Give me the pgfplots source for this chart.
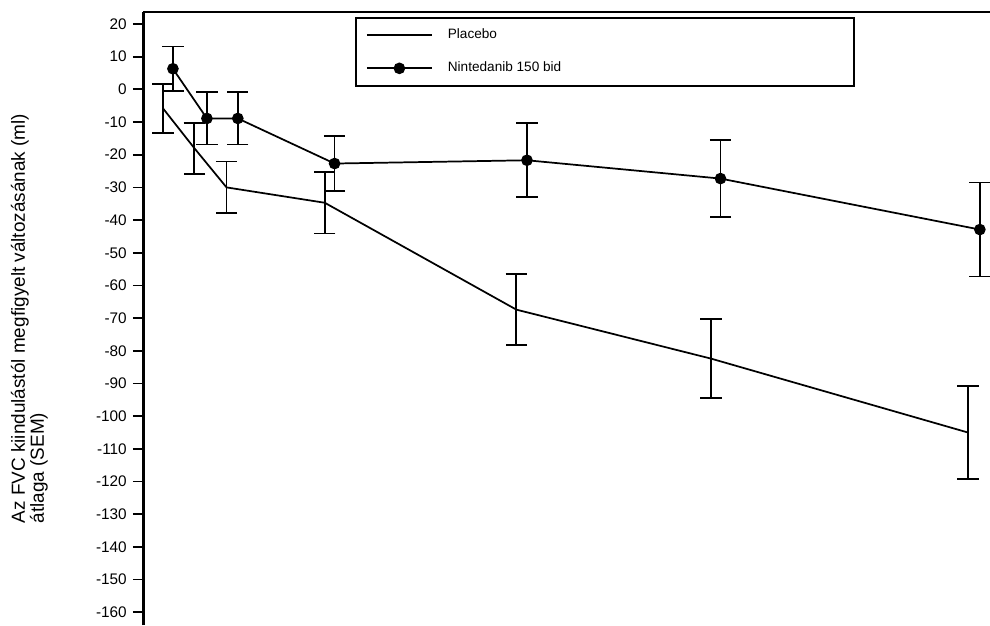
\documentclass[border=0pt]{standalone}
\usepackage{fontspec}
\setmainfont{Liberation Sans}
\usepackage{pgfplots}
\pgfplotsset{compat=1.18}
\usepackage{pgfplotstable}

\pgfplotstableread{
x y e
2     -5.8   7.5
3.95  -18.0  7.8
5.95  -30.0  7.9
12.05 -34.7  9.4
23.95 -67.4  10.8
36.05 -82.4  12.1
52    -105.0 14.3
}\placebo

\pgfplotstableread{
x y e
2.62   6.3   6.8
4.73  -8.9   8.0
6.65  -8.9   8.0
12.66 -22.7  8.5
24.61 -21.7  11.3
36.63 -27.3  11.7
52.74 -42.9  14.4
}\ninted

\begin{document}
\begin{tikzpicture}
\begin{axis}[
  scale only axis,
  width=634.9pt, height=459.75pt,
  xmin=0.79, xmax=53.37,
  ymin=-163.9, ymax=23.67,
  axis x line*=top,
  axis y line*=left,
  axis line style={-, line width=1.6pt, black},
  xtick=\empty,
  ytick={-160,-150,...,20},
  tick align=outside,
  major tick length=8pt,
  ytick style={line width=1.3pt, black},
  /pgf/number format/assume math mode=true,
  yticklabel style={font=\fontsize{11.5}{12}\selectfont, xshift=-1pt},
  ylabel={Az FVC kiindulástól megfigyelt változásának (ml)\\átlaga (SEM)},
  ylabel style={at={(axis description cs:-0.1348,0.5)}, anchor=center,
    align=left, font=\fontsize{14.2}{14.4}\selectfont},
  legend style={at={(axis description cs:0.25,0.9918)}, anchor=north west,
    draw=black, line width=1.2pt, inner xsep=7.5pt, inner ysep=8.2pt,
    row sep=15pt, column sep=11.25pt,
    font=\fontsize{10.2}{11}\selectfont,
    nodes={inner sep=0pt, text height=7.5pt, text depth=2.3pt}},
  legend cell align=left,
  legend image code/.code={
    \draw[line width=1.3pt, mark repeat=2, mark phase=2] plot coordinates {(0cm,0cm) (0.86cm,0cm) (1.72cm,0cm)};
  },
]
\addplot[black, line width=1.3pt, mark=none,
  error bars/.cd, y dir=both, y explicit,
  error bar style={line width=1.3pt, black},
  error mark options={rotate=90, mark size=8pt, line width=1.3pt, black}]
  table[x=x, y=y, y error=e] {\placebo};
\addlegendentry{\makebox[297pt][l]{Placebo}}
\addplot[black, line width=1.3pt, mark=*, mark size=3.7pt,
  mark options={solid, fill=black},
  error bars/.cd, y dir=both, y explicit,
  error bar style={line width=1.3pt, black},
  error mark options={rotate=90, mark size=8pt, line width=1.3pt, black}]
  table[x=x, y=y, y error=e] {\ninted};
\addlegendentry{\makebox[297pt][l]{Nintedanib 150 bid}}
\end{axis}
\pgfresetboundingbox
\path ([xshift=-107.6pt]current axis.south west) rectangle ([yshift=9pt]current axis.north east);
\end{tikzpicture}
\end{document}
